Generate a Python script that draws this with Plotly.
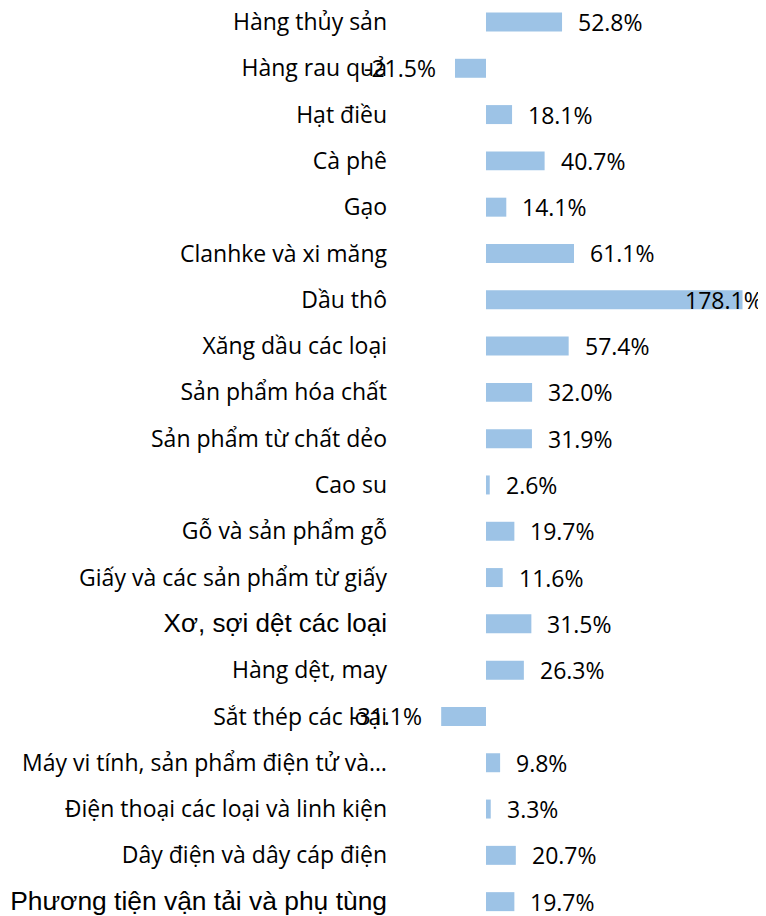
import plotly.graph_objects as go

categories = [
    "Hàng thủy sản", "Hàng rau quả", "Hạt điều", "Cà phê", "Gạo",
    "Clanhke và xi măng", "Dầu thô", "Xăng dầu các loại", "Sản phẩm hóa chất",
    "Sản phẩm từ chất dẻo", "Cao su", "Gỗ và sản phẩm gỗ",
    "Giấy và các sản phẩm từ giấy", "Xơ, sợi dệt các loại", "Hàng dệt, may",
    "Sắt thép các loại", "Máy vi tính, sản phẩm điện tử và…",
    "Điện thoại các loại và linh kiện", "Dây điện và dây cáp điện",
    "Phương tiện vận tải và phụ tùng",
]
values = [52.8, -21.5, 18.1, 40.7, 14.1, 61.1, 178.1, 57.4, 32.0, 31.9,
          2.6, 19.7, 11.6, 31.5, 26.3, -31.1, 9.8, 3.3, 20.7, 19.7]
value_labels = [f"{v:.1f}%" for v in values]

BASE_FONT = "Open Sans"
BAR_COLOR = "#9DC3E6"

# tick labels: two categories use a different (Arial-like) typeface
special = {
    "Xơ, sợi dệt các loại": "font-family:Liberation Sans;font-size:26px",
    "Phương tiện vận tải và phụ tùng": "font-family:Liberation Sans;font-size:26.4px",
}
ticktext = [
    f'<span style="{special[c]}">{c}</span>' if c in special else c
    for c in categories
]

fig = go.Figure(go.Bar(
    x=values, y=categories, orientation="h",
    marker=dict(color=BAR_COLOR, line=dict(width=0)),
    hoverinfo="skip",
))

annotations = []
xmax = 194.4
for c, v, t in zip(categories, values, value_labels):
    if v < 0:
        anchor, shift = "right", -17
    elif v > 150:
        anchor, shift = "right", 22
    else:
        anchor, shift = "left", 14
    annotations.append(dict(
        x=v, y=c, xref="x", yref="y", text=t, showarrow=False,
        xanchor=anchor, yanchor="middle", xshift=shift,
        font=dict(family=BASE_FONT, size=23, color="#000000"),
    ))

fig.update_layout(
    width=758, height=908,
    margin=dict(l=392, r=0, t=0, b=0, autoexpand=False),
    paper_bgcolor="white", plot_bgcolor="white",
    bargap=0.59,
    showlegend=False,
    font=dict(family=BASE_FONT, size=23, color="#000000"),
    annotations=annotations,
    xaxis=dict(range=[-59.7, xmax], showgrid=False, zeroline=False,
               showticklabels=False, showline=False, ticks="",
               automargin=False),
    yaxis=dict(range=[19.31, -0.302], tickmode="array", tickvals=categories,
               ticktext=ticktext, showgrid=False, zeroline=False,
               showline=False, ticks="", ticklabelstandoff=12,
               automargin=False,
               tickfont=dict(family=BASE_FONT, size=23, color="#000000")),
)

fig.write_html("out.html")
